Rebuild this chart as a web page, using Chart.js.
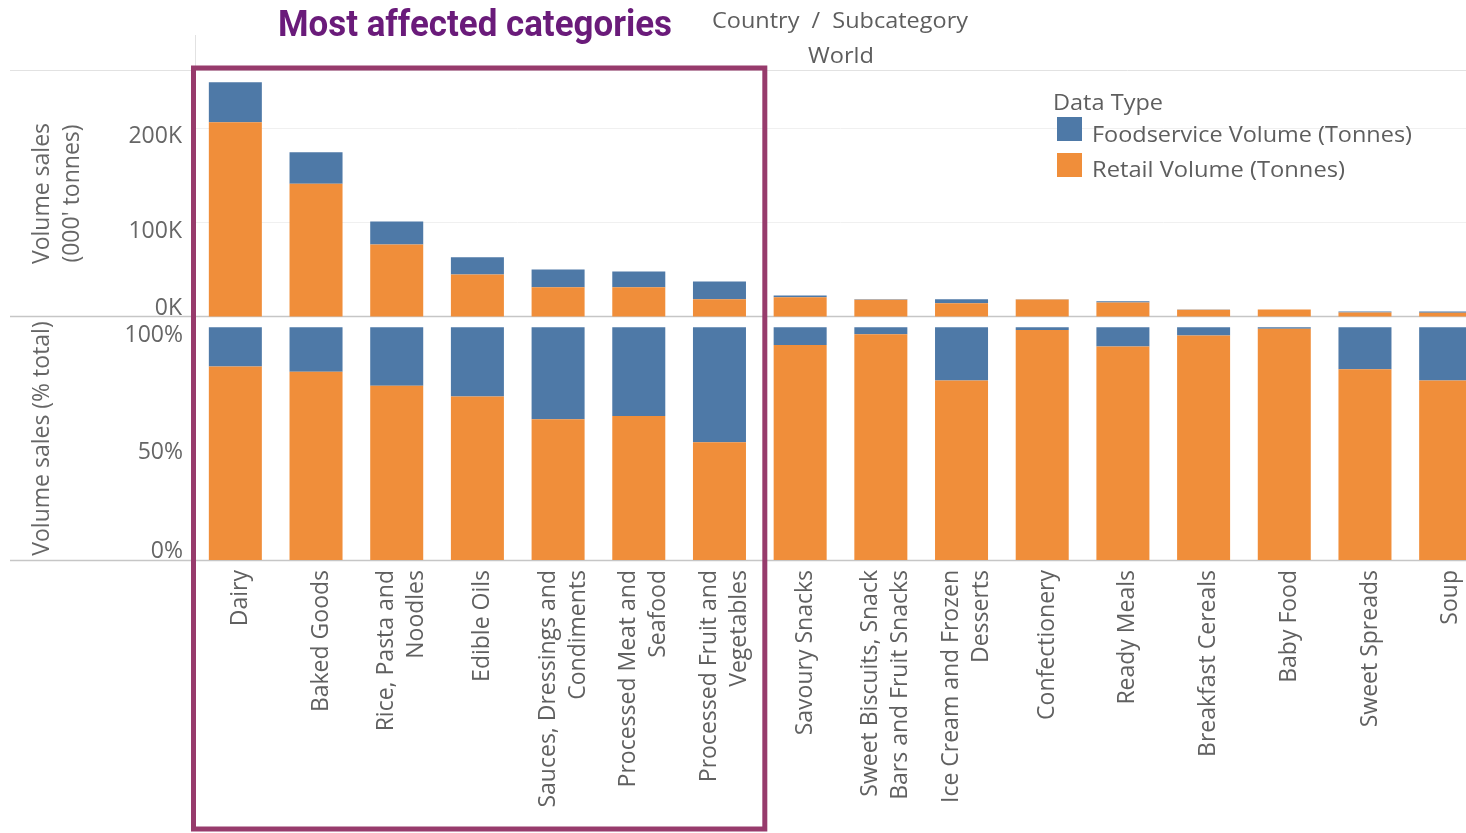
<!DOCTYPE html>
<html>
<head>
<meta charset="utf-8">
<script src="https://cdn.jsdelivr.net/npm/chart.js@4.4.0/dist/chart.umd.min.js"></script>
<style>
  html, body { margin:0; padding:0; background:#fff; width:1466px; height:833px; overflow:hidden; }
  #chartCanvas { position:absolute; left:0; top:0; }
  .txt { position:absolute; white-space:nowrap; transform-origin:0 0; z-index:2; }
  .gray { font-family:'Open Sans', sans-serif; font-size:21px; line-height:21px; color:#5e5e5e; }
  #title { font-family:Roboto, sans-serif; font-weight:700; font-size:36px; line-height:36px; color:#6a1b7a; left:278px; top:6px; }
  .swatch { position:absolute; width:25px; height:24px; z-index:2; }
</style>
</head>
<body>
<canvas id="chartCanvas" width="1500" height="833"></canvas>
<div id="title" class="txt">Most affected categories</div>
<div id="hdr1" class="txt gray" style="left:712px;top:10px;">Country&nbsp; /&nbsp; Subcategory</div>
<div id="hdr2" class="txt gray" style="left:808px;top:45px;">World</div>
<div id="legendBox"></div>
<script>
// ---------------- data ----------------
const categories = [
  ['Dairy'], ['Baked Goods'], ['Rice, Pasta and', 'Noodles'], ['Edible Oils'],
  ['Sauces, Dressings and', 'Condiments'], ['Processed Meat and', 'Seafood'],
  ['Processed Fruit and', 'Vegetables'], ['Savoury Snacks'],
  ['Sweet Biscuits, Snack', 'Bars and Fruit Snacks'], ['Ice Cream and Frozen', 'Desserts'],
  ['Confectionery'], ['Ready Meals'], ['Breakfast Cereals'], ['Baby Food'],
  ['Sweet Spreads'], ['Soup']
];
// volumes in 000' tonnes
const retailVolume      = [206100, 141000, 76700, 45000, 31500, 31500, 18800, 21000, 18200, 14500, 18600, 15300, 7600, 7850, 4800, 4500];
const foodserviceVolume = [42400, 33400, 24400, 18300, 18800, 16600, 18800, 1800, 600, 4300, 200, 1400, 300, 50, 1000, 1300];
// share of total volume, %
const retailShare       = [83.1, 80.9, 74.9, 70.2, 60.5, 61.9, 50.6, 92.4, 97.0, 77.1, 98.8, 91.7, 96.4, 99.4, 82.0, 77.1];
const foodserviceShare  = [16.9, 19.1, 25.1, 29.8, 39.5, 38.1, 49.4, 7.6, 3.0, 22.9, 1.2, 8.3, 3.6, 0.6, 18.0, 22.9];
const volumeTicks = [0, 100000, 200000];
const shareTicks  = [0, 50, 100];
const seriesNames  = ['Foodservice Volume (Tonnes)', 'Retail Volume (Tonnes)'];
const seriesColors = ['#4e79a7', '#f08e3a'];
const legendTitle = 'Data Type';
const highlightedCount = 7;

// ---------------- legend (HTML) ----------------
(function buildLegend(){
  const box = document.getElementById('legendBox');
  const t = document.createElement('div');
  t.className = 'txt gray'; t.id = 'legTitle';
  t.style.left = '1053px'; t.style.top = '92px';
  t.textContent = legendTitle;
  box.appendChild(t);
  seriesNames.forEach((name, i) => {
    const sw = document.createElement('div');
    sw.className = 'swatch';
    sw.style.left = '1057px'; sw.style.top = (117 + i * 36) + 'px';
    sw.style.background = seriesColors[i];
    box.appendChild(sw);
    const lb = document.createElement('div');
    lb.className = 'txt gray'; lb.id = 'leg' + i;
    lb.style.left = '1092px'; lb.style.top = (124 + i * 35) + 'px';
    lb.textContent = name;
    box.appendChild(lb);
  });
})();

function fitWidth(id, w){
  const el = document.getElementById(id);
  el.style.transform = 'none';
  const r = el.getBoundingClientRect().width;
  if (r > 0) el.style.transform = 'scaleX(' + (w / r) + ')';
}
function fitAll(){
  fitWidth('title', 394);
  fitWidth('hdr1', 256);
  fitWidth('hdr2', 66);
  fitWidth('legTitle', 110);
  fitWidth('leg0', 320);
  fitWidth('leg1', 253);
}
fitAll();
if (document.fonts && document.fonts.ready) document.fonts.ready.then(fitAll);

// ---------------- chart ----------------
const FONT = "'Open Sans', sans-serif";
const labelColor = '#606060';

const decor = {
  id: 'decor',
  beforeDatasetsDraw(chart){
    const {ctx, chartArea, scales} = chart;
    const W = chart.width;
    ctx.save();
    ctx.lineWidth = 1;
    ctx.strokeStyle = '#e2e2e2';
    ctx.beginPath();
    ctx.moveTo(10, chartArea.top + 0.5); ctx.lineTo(W, chartArea.top + 0.5);
    ctx.moveTo(chartArea.left + 0.5, 35); ctx.lineTo(chartArea.left + 0.5, chartArea.top);
    ctx.stroke();
    ctx.strokeStyle = '#c6c6c6';
    ctx.lineWidth = 1.5;
    const z1 = Math.round(scales.y.getPixelForValue(0)) - 0.5;
    const z2 = Math.round(scales.y2.getPixelForValue(0)) + 0.5;
    ctx.beginPath();
    ctx.moveTo(10, z1); ctx.lineTo(W, z1);
    ctx.moveTo(10, z2); ctx.lineTo(W, z2);
    ctx.stroke();
    ctx.restore();
  },
  afterDraw(chart){
    const {ctx, chartArea, scales} = chart;
    const x = scales.x;
    ctx.save();
    // category labels, rotated
    ctx.fillStyle = labelColor;
    ctx.font = "23px " + FONT;
    ctx.textAlign = 'right';
    ctx.textBaseline = 'middle';
    const lh = 30;
    categories.forEach((lines, i) => {
      const cx = x.getPixelForValue(i) + 5;
      lines.forEach((line, j) => {
        const lx = cx + (j - (lines.length - 1) / 2) * lh;
        ctx.save();
        ctx.translate(lx, chartArea.bottom + 10);
        ctx.rotate(-Math.PI / 2);
        ctx.fillText(line, 0, 0);
        ctx.restore();
      });
    });
    // highlight box around most affected categories
    const slot = x.getPixelForValue(1) - x.getPixelForValue(0);
    const left = x.getPixelForValue(0) - slot / 2 - 1.5;
    const right = (x.getPixelForValue(highlightedCount - 1) + x.getPixelForValue(highlightedCount)) / 2 + 5;
    ctx.strokeStyle = '#973b6c';
    ctx.lineWidth = 5;
    ctx.strokeRect(left, chartArea.top - 2, right - left, 829 - (chartArea.top - 2));
    ctx.restore();
  }
};

const tickFont = { family: FONT, size: 23, lineHeight: 17/23 };
const titleFont = { family: FONT, size: 23, lineHeight: 30/23 };

new Chart(document.getElementById('chartCanvas'), {
  type: 'bar',
  data: {
    labels: categories.map(c => c.join(' ')),
    datasets: [
      { label: seriesNames[1], data: retailVolume, backgroundColor: seriesColors[1], yAxisID: 'y', stack: 's' },
      { label: seriesNames[0], data: foodserviceVolume, backgroundColor: seriesColors[0], yAxisID: 'y', stack: 's' },
      { label: seriesNames[1], data: retailShare, backgroundColor: seriesColors[1], yAxisID: 'y2', stack: 's' },
      { label: seriesNames[0], data: foodserviceShare, backgroundColor: seriesColors[0], yAxisID: 'y2', stack: 's' }
    ]
  },
  options: {
    responsive: false,
    animation: false,
    devicePixelRatio: 1,
    layout: { padding: { top: 70, right: 14, bottom: 273, left: 0 } },
    datasets: { bar: { barPercentage: 0.657, categoryPercentage: 1, borderWidth: 0 } },
    plugins: { legend: { display: false }, tooltip: { enabled: false } },
    scales: {
      x: { stacked: true, display: false },
      y: {
        stack: 'panes', stackWeight: 247, weight: 2, position: 'left', stacked: true,
        min: 0, max: 261400,
        afterBuildTicks: s => { s.ticks = volumeTicks.map(v => ({ value: v })); },
        afterFit: s => { s.width = 195; },
        border: { display: false },
        grid: { drawTicks: false, color: c => (c.tick && c.tick.value === 0) ? 'rgba(0,0,0,0)' : '#f0f0f0' },
        ticks: {
          padding: 13, color: '#666', font: tickFont,
          callback: v => { const s = (v / 1000) + 'K'; return v === 0 ? [s, ''] : ['', s]; }
        },
        title: { display: true, text: ['Volume sales', "(000' tonnes)"], color: '#666', font: titleFont, padding: { top: 27, bottom: 0 } }
      },
      y2: {
        stack: 'panes', stackWeight: 243, weight: 1, position: 'left', stacked: true,
        min: 0, max: 104.4,
        afterBuildTicks: s => { s.ticks = shareTicks.map(v => ({ value: v })); },
        afterFit: s => { s.width = 195; },
        border: { display: false },
        grid: { display: false },
        ticks: {
          padding: 4, color: '#666', font: tickFont,
          callback: v => { const s = v + '%'; return v === 0 ? [s, ''] : ['', s]; }
        },
        title: { display: true, text: 'Volume sales (% total)', color: '#666', font: titleFont, padding: { top: 27, bottom: 0 } }
      }
    }
  },
  plugins: [decor]
});
</script>
</body>
</html>
